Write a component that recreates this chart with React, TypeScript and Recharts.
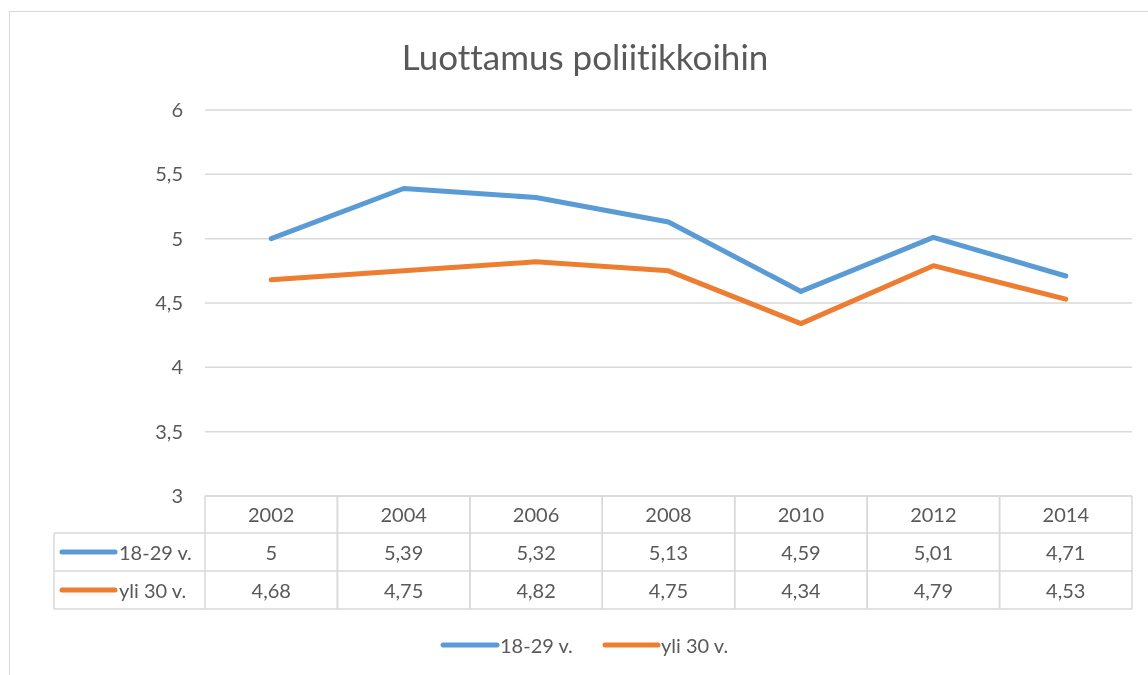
import {
  ComposedChart, Line, XAxis, YAxis, CartesianGrid, Legend
} from 'recharts';

// Luottamus poliitikkoihin, 2002-2014
const years = ['2002', '2004', '2006', '2008', '2010', '2012', '2014'];
const young = [5, 5.39, 5.32, 5.13, 4.59, 5.01, 4.71];
const older = [4.68, 4.75, 4.82, 4.75, 4.34, 4.79, 4.53];
const seriesNames = ['18-29 v.', 'yli 30 v.'];
const yTicks = [3, 3.5, 4, 4.5, 5, 5.5, 6];

const BLUE = '#5b9bd5';
const ORANGE = '#ed7d31';
const GRID = '#d9d9d9';
const TEXT = '#595959';
const FONT = 'Lato, "Open Sans", sans-serif';

const data = years.map((year, i) => ({ year, young: young[i], older: older[i] }));

const fmt = (v: number) => String(v).replace('.', ',');

const ROW = [37, 75, 113];

const TableTick = (props: any) => {
  const { x, y, payload } = props;
  const i = payload.index;
  const half = payload.offset || 66.2;
  const left = x - half;
  const right = x + half;
  const values = [young[i], older[i]];
  return (
    <g fontFamily={FONT} fontSize={20} fill={TEXT}>
      <line x1={left} y1={y} x2={right} y2={y} stroke={GRID} strokeWidth={1.5} />
      {ROW.map((r) => (
        <line key={r} x1={left} y1={y + r} x2={right} y2={y + r} stroke={GRID} strokeWidth={1.5} />
      ))}
      <line x1={left} y1={y} x2={left} y2={y + ROW[2]} stroke={GRID} strokeWidth={1.5} />
      <line x1={right} y1={y} x2={right} y2={y + ROW[2]} stroke={GRID} strokeWidth={1.5} />
      <text x={x} y={y + 18} textAnchor="middle" dominantBaseline="central">{years[i]}</text>
      <text x={x} y={y + 56} textAnchor="middle" dominantBaseline="central">{fmt(values[0])}</text>
      <text x={x} y={y + 94} textAnchor="middle" dominantBaseline="central">{fmt(values[1])}</text>
      {i === 0 && (
        <g>
          <line x1={46} y1={y + ROW[0]} x2={left} y2={y + ROW[0]} stroke={GRID} strokeWidth={1.5} />
          <line x1={46} y1={y + ROW[1]} x2={left} y2={y + ROW[1]} stroke={GRID} strokeWidth={1.5} />
          <line x1={46} y1={y + ROW[2]} x2={left} y2={y + ROW[2]} stroke={GRID} strokeWidth={1.5} />
          <line x1={46} y1={y + ROW[0]} x2={46} y2={y + ROW[2]} stroke={GRID} strokeWidth={1.5} />
          <line x1={54} y1={y + 56} x2={107} y2={y + 56} stroke={BLUE} strokeWidth={5} strokeLinecap="round" />
          <text x={111} y={y + 56} dominantBaseline="central">{seriesNames[0]}</text>
          <line x1={54} y1={y + 94} x2={107} y2={y + 94} stroke={ORANGE} strokeWidth={5} strokeLinecap="round" />
          <text x={111} y={y + 94} dominantBaseline="central">{seriesNames[1]}</text>
        </g>
      )}
    </g>
  );
};

const LegendContent = () => (
  <svg width={1132} height={40} style={{ display: 'block' }}>
    <g fontFamily={FONT} fontSize={20} fill={TEXT}>
      <line x1={435} y1={29} x2={489} y2={29} stroke={BLUE} strokeWidth={5} strokeLinecap="round" />
      <text x={492} y={29} dominantBaseline="central">{seriesNames[0]}</text>
      <line x1={597} y1={29} x2={650} y2={29} stroke={ORANGE} strokeWidth={5} strokeLinecap="round" />
      <text x={653} y={29} dominantBaseline="central">{seriesNames[1]}</text>
    </g>
  </svg>
);

export default function App() {
  return (
    <div style={{ width: 1132, height: 655, position: 'relative' }}>
      {/* chart frame, cut off by the window on the right and bottom */}
      <div
        style={{
          position: 'fixed', left: 9, top: 11, width: 1200, height: 720,
          border: `1px solid ${GRID}`, boxSizing: 'border-box', pointerEvents: 'none'
        }}
      />
      <div
        style={{
          position: 'absolute', left: 0, top: 27, width: 1154, textAlign: 'center',
          fontFamily: FONT, fontSize: 35, color: TEXT, lineHeight: '42px',
          fontVariantLigatures: 'none'
        }}
      >
        Luottamus poliitikkoihin
      </div>
      <div style={{ position: 'absolute', left: 0, top: 0 }}>
        <ComposedChart
          width={1132}
          height={655}
          data={data}
          margin={{ top: 102, right: 8, left: 0, bottom: 7 }}
        >
          <CartesianGrid vertical={false} stroke={GRID} strokeWidth={1.5} />
          <XAxis
            dataKey="year"
            scale="band"
            height={120}
            interval={0}
            axisLine={false}
            tickLine={false}
            tickSize={0}
            tickMargin={0}
            tick={<TableTick />}
          />
          <YAxis
            domain={[3, 6]}
            ticks={yTicks}
            width={197}
            axisLine={false}
            tickLine={false}
            tickMargin={16}
            tickFormatter={fmt}
            tick={{ fill: TEXT, fontSize: 20, fontFamily: FONT }}
          />
          <Legend verticalAlign="bottom" height={40} content={<LegendContent />} />
          <Line
            dataKey="young"
            name={seriesNames[0]}
            stroke={BLUE}
            strokeWidth={5}
            strokeLinecap="round"
            strokeLinejoin="round"
            dot={false}
            activeDot={false}
            isAnimationActive={false}
          />
          <Line
            dataKey="older"
            name={seriesNames[1]}
            stroke={ORANGE}
            strokeWidth={5}
            strokeLinecap="round"
            strokeLinejoin="round"
            dot={false}
            activeDot={false}
            isAnimationActive={false}
          />
        </ComposedChart>
      </div>
    </div>
  );
}
